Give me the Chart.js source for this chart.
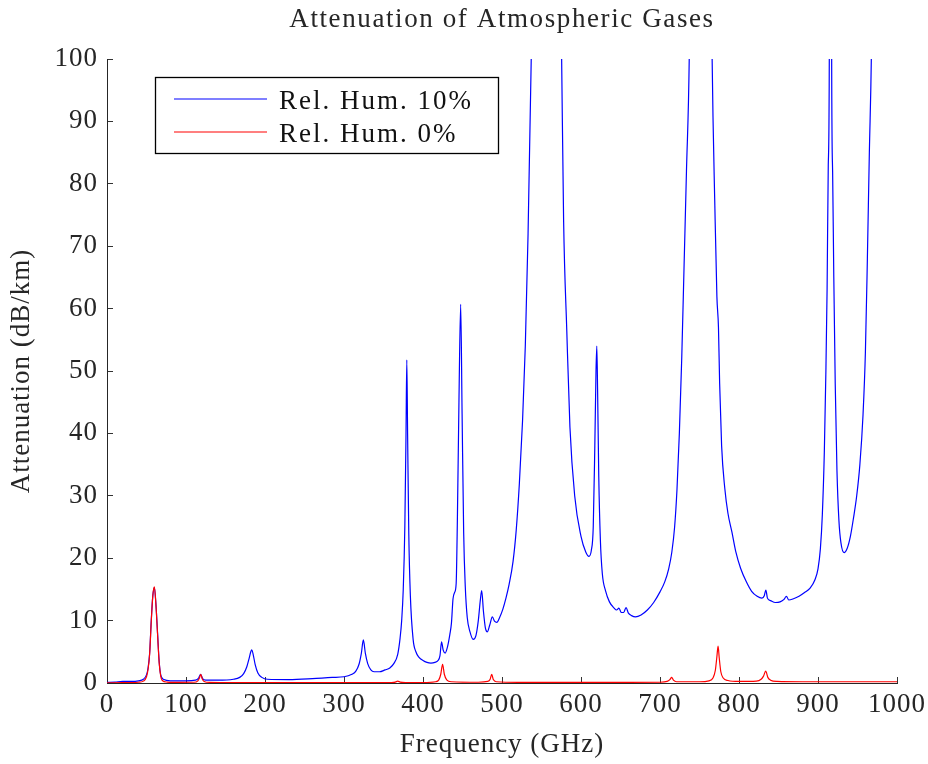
<!DOCTYPE html>
<html>
<head>
<meta charset="utf-8">
<title>Attenuation of Atmospheric Gases</title>
<script src="https://cdn.jsdelivr.net/npm/chart.js@4.4.0/dist/chart.umd.min.js"></script>
<style>
  html, body { margin: 0; padding: 0; background: #fff; }
</style>
</head>
<body>
<canvas id="atten" width="928" height="764"></canvas>
<script>
// Specific attenuation (dB/km) versus frequency (GHz)
const humidFreq = [
  0, 10, 20, 30, 40, 46, 50, 52, 54, 56,
  58, 60, 62, 64, 66, 68, 72, 80, 100, 112,
  116, 118.5, 121, 125, 140, 160, 168, 173, 177, 180,
  182, 183.3, 185, 187.5, 191, 196, 203, 230, 260, 285,
  300, 310, 315, 319, 322, 324.5, 327, 330, 334, 338,
  345, 352, 358, 363, 368, 371, 373, 375, 377, 378.5,
  379.5, 380.5, 382, 384, 387.5, 391, 395, 400, 405, 410,
  415, 419, 421.5, 423.5, 425.5, 428, 431, 434, 436, 438,
  440, 442, 443.5, 445.5, 447.7, 449.5, 451.5, 453.5, 456, 459.5,
  463.5, 467, 470, 472.5, 474.3, 476.5, 479, 481.5, 484.5, 487.8,
  490.5, 493.5, 497, 501, 505, 509, 514, 518, 522, 526,
  529.5, 533, 537, 556, 575.5, 578, 582, 586, 592, 600,
  606, 610, 613, 615.5, 617.5, 619, 620, 621, 622.5, 624.5,
  627, 631, 636, 642, 645, 648, 651, 654, 657, 660,
  664, 669, 676, 684, 692, 700, 706, 711, 715, 718.5,
  721.5, 724.5, 727.5, 730.5, 733.5, 737, 752, 766, 769.5, 772,
  774, 775.5, 778, 782, 786, 791, 796, 802, 809, 816,
  823, 829, 832, 834, 836, 840, 846, 852, 857, 860,
  863, 869, 876, 883, 890, 896, 900, 903, 905.5, 908,
  910, 911.5, 913, 914.3, 915.8, 917.3, 918.5, 920, 921.8, 924,
  926.5, 929, 933, 937, 941, 945, 949, 953, 957, 960,
  962.5, 965, 967.5, 980, 1000
];
const humidAtt = [
  0.1, 0.15, 0.25, 0.25, 0.35, 0.6, 1.3, 2.4, 4.8, 10,
  14, 15.3, 12.5, 8, 3.5, 1.3, 0.55, 0.35, 0.35, 0.45,
  0.8, 1.4, 0.7, 0.45, 0.45, 0.6, 0.9, 1.5, 2.6, 4.0,
  5.0, 5.3, 4.6, 3.0, 1.6, 0.9, 0.6, 0.55, 0.7, 0.9,
  1.0, 1.4, 1.9, 3.0, 4.8, 6.9, 4.8, 3.1, 2.1, 1.8,
  1.8, 2.1, 2.4, 3.1, 4.6, 7.2, 10, 15, 25, 40,
  51.8, 40, 24, 14, 7.0, 5.0, 4.1, 3.6, 3.3, 3.2,
  3.3, 3.6, 4.4, 6.6, 5.3, 4.8, 5.8, 7.8, 9.6, 13.5,
  14.5, 16, 26, 45, 60.7, 43, 24, 15.5, 10.5, 8.2,
  7.0, 7.6, 10, 13.2, 14.8, 11.5, 8.8, 8.2, 9.3, 10.6,
  9.9, 9.7, 10.5, 11.8, 13.6, 15.8, 19.5, 24.5, 32, 42,
  54, 72, 100, 300, 100, 74, 56.5, 41, 30, 23.5,
  21, 20.3, 21.2, 25, 38, 50, 54, 47, 33, 23,
  17.5, 14.8, 13, 12, 11.7, 12, 11.3, 11.3, 12.1, 11.2,
  10.8, 10.6, 10.9, 11.7, 12.9, 14.6, 16.2, 18.3, 21, 25,
  31, 40, 52, 67, 82, 100, 300, 100, 76, 62,
  57, 48, 38, 31.2, 27.2, 24.2, 21, 18.4, 16.3, 14.7,
  13.9, 13.6, 14.0, 14.9, 13.6, 13.2, 12.9, 13.0, 13.4, 13.9,
  13.3, 13.5, 13.9, 14.5, 15.2, 16.5, 18.3, 21.5, 27, 37,
  50, 63, 83, 100, 300, 100, 82, 65, 48, 34,
  26, 22.5, 20.9, 21.6, 23.5, 26.5, 30, 35, 43, 53,
  68, 85, 100, 250, 300
];

const dryFreq = [
  0, 20, 40, 46, 50, 52, 54, 56, 58, 60,
  62, 64, 66, 68, 70, 76, 90, 110, 115, 117,
  118.7, 120.5, 123, 130, 200, 300, 360, 365, 368, 371,
  378, 400, 416, 420, 422.5, 424.8, 427, 430, 436, 470,
  482, 485, 487, 489, 493, 520, 650, 700, 709, 712.5,
  714.8, 717, 721, 750, 762, 767, 770, 772, 773.5, 775,
  777, 780, 786, 800, 822, 828, 831, 833.8, 836.5, 840,
  848, 880, 1000
];
const dryAtt = [
  0.03, 0.05, 0.12, 0.3, 1.0, 2.2, 4.7, 9.8, 14, 15.4,
  12.4, 7.8, 3.3, 1.1, 0.4, 0.15, 0.1, 0.12, 0.35, 0.8,
  1.4, 0.7, 0.25, 0.1, 0.05, 0.05, 0.08, 0.15, 0.3, 0.15,
  0.08, 0.08, 0.2, 0.5, 1.4, 3.0, 1.4, 0.5, 0.2, 0.12,
  0.25, 0.6, 1.4, 0.55, 0.2, 0.1, 0.1, 0.12, 0.25, 0.55,
  0.9, 0.45, 0.2, 0.2, 0.35, 0.8, 2.0, 4.2, 5.9, 4.0,
  1.8, 0.8, 0.4, 0.25, 0.3, 0.6, 1.1, 1.9, 0.9, 0.45,
  0.25, 0.2, 0.2
];

const seriesLabels = ['Rel. Hum. 10%', 'Rel. Hum. 0%'];
const seriesColors = ['#0000ff', '#ff0000'];
const titleText = 'Attenuation of Atmospheric Gases';

const FONT = "'Liberation Serif', 'Times New Roman', serif";
const INK = '#262626';

const toPoints = (xs, ys) => xs.map((x, i) => ({ x, y: ys[i] }));

// a little tracking so the serif text runs as wide as TeX output
const wideText = {
  id: 'wideText',
  beforeLayout(chart) { chart.ctx.letterSpacing = '1px'; },
  beforeDraw(chart) { chart.ctx.letterSpacing = '1px'; }
};

// centred over the plot area rather than the whole canvas
const plotTitle = {
  id: 'plotTitle',
  afterDraw(chart) {
    const { ctx, chartArea } = chart;
    ctx.save();
    ctx.letterSpacing = '1.6px';
    ctx.font = `27px ${FONT}`;
    ctx.fillStyle = INK;
    ctx.textAlign = 'center';
    ctx.textBaseline = 'alphabetic';
    ctx.fillText(titleText, (chartArea.left + chartArea.right) / 2, 27);
    ctx.restore();
  }
};

// boxed legend in the upper left corner
const boxLegend = {
  id: 'boxLegend',
  afterDraw(chart) {
    const { ctx } = chart;
    ctx.save();
    ctx.fillStyle = '#fff';
    ctx.fillRect(155, 77, 343, 76);
    ctx.strokeStyle = '#000';
    ctx.lineWidth = 1.3;
    ctx.strokeRect(155.5, 77.5, 343, 76);

    ctx.letterSpacing = '2px';
    ctx.font = `27px ${FONT}`;
    ctx.textAlign = 'left';
    ctx.textBaseline = 'alphabetic';
    seriesLabels.forEach((label, i) => {
      const y = 99 + i * 33;
      ctx.strokeStyle = seriesColors[i];
      ctx.lineWidth = 1.2;
      ctx.beginPath();
      ctx.moveTo(174, y);
      ctx.lineTo(267, y);
      ctx.stroke();
      ctx.fillStyle = '#111';
      ctx.fillText(label, 279, y + 10);
    });
    ctx.restore();
  }
};

const axisTicks = {
  color: INK,
  font: { family: FONT, size: 27 },
  callback: (v) => String(v)
};

new Chart(document.getElementById('atten'), {
  type: 'line',
  data: {
    datasets: [
      {
        label: seriesLabels[0],
        data: toPoints(humidFreq, humidAtt),
        borderColor: seriesColors[0],
        borderWidth: 1.2,
        pointRadius: 0,
        cubicInterpolationMode: 'monotone',
        order: 2
      },
      {
        label: seriesLabels[1],
        data: toPoints(dryFreq, dryAtt),
        borderColor: seriesColors[1],
        borderWidth: 1.2,
        pointRadius: 0,
        cubicInterpolationMode: 'monotone',
        order: 1
      }
    ]
  },
  options: {
    responsive: false,
    animation: false,
    events: [],
    layout: { padding: { top: 59, right: 31, left: 0, bottom: 0 } },
    plugins: {
      legend: { display: false },
      tooltip: { enabled: false },
      title: { display: false }
    },
    scales: {
      x: {
        type: 'linear',
        min: 0,
        max: 1000,
        afterFit(scale) {
          scale.height = 81;
          scale.paddingLeft = 0;
          scale.paddingRight = 0;
        },
        ticks: { ...axisTicks, stepSize: 100, padding: 12, maxRotation: 0 },
        grid: { drawOnChartArea: false, tickLength: -6, color: '#333', lineWidth: 1 },
        border: { color: INK, width: 1 },
        title: {
          display: true,
          text: 'Frequency (GHz)',
          color: INK,
          font: { family: FONT, size: 27 },
          padding: { top: 0, bottom: 3 }
        }
      },
      y: {
        min: 0,
        max: 100,
        afterFit(scale) { scale.width = 107; },
        ticks: { ...axisTicks, stepSize: 10, padding: 15 },
        grid: { drawOnChartArea: false, tickLength: -6, color: '#333', lineWidth: 1 },
        border: { color: INK, width: 1 },
        title: {
          display: true,
          text: 'Attenuation (dB/km)',
          color: INK,
          font: { family: FONT, size: 27 },
          padding: { top: 6, bottom: 0 }
        }
      }
    }
  },
  plugins: [wideText, plotTitle, boxLegend]
});
</script>
</body>
</html>
